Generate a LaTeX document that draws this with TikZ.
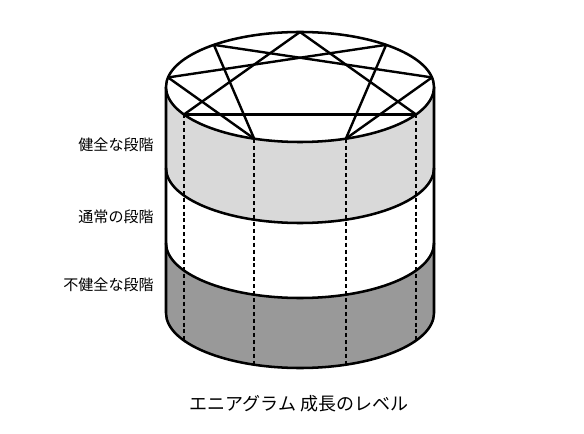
\documentclass[tikz,border=0pt]{standalone}
\usepackage{fontspec}
\newfontfamily\jpfont{Noto Sans CJK JP}
\usetikzlibrary{positioning}
\definecolor{healthy}{HTML}{D9D9D9}
\definecolor{unhealthy}{HTML}{999999}
\tikzset{
    outline/.style = {
        draw = black,
        line width = 1.9pt,
        },
    star edge/.style = {
        line width = 1.8pt,
        },
    hidden/.style = {
        line width = 1.5pt,
        dash pattern = on 3pt off 2.2pt,
        },
    level/.style = {
        font = \jpfont\fontsize{11.3}{13}\selectfont,
        anchor = east,
        inner sep = 0pt,
        },
    caption/.style = {
        font = \jpfont\fontsize{13.5}{16}\selectfont,
        inner sep = 0pt,
        },
}
\begin{document}
\begin{tikzpicture}[x=0.75pt, y=0.75pt, line join=round]
            \useasboundingbox (0,0) rectangle (584,-434);
            \coordinate (top) at (300,-87);
            \coordinate (mid1) at (300,-168);
            \coordinate (mid2) at (300,-243);
            \coordinate (bot) at (300,-313);

            % bands
            \fill[healthy] (166,-87) -- (166,-168)
                arc[start angle=180, end angle=360, x radius=134, y radius=55]
                -- (434,-87)
                arc[start angle=0, end angle=-180, x radius=134, y radius=55] -- cycle;
            \fill[unhealthy] (166,-243) -- (166,-313)
                arc[start angle=180, end angle=360, x radius=134, y radius=55]
                -- (434,-243)
                arc[start angle=0, end angle=-180, x radius=134, y radius=55] -- cycle;

            % cylinder
            \draw[outline] (166,-87) -- (166,-313)
                arc[start angle=180, end angle=360, x radius=134, y radius=55]
                -- (434,-87);
            \draw[outline] (166,-168) arc[start angle=180, end angle=360, x radius=134, y radius=55];
            \draw[outline] (166,-243) arc[start angle=180, end angle=360, x radius=134, y radius=55];
            \draw[outline, fill=white] (top) ellipse[x radius=134, y radius=55];

            % enneagram points
            \path (top) ++(90:134 and 55) coordinate (p9);
            \path (top) ++(50:134 and 55) coordinate (p1);
            \path (top) ++(10:134 and 55) coordinate (p2);
            \path (top) ++(-30:134 and 55) coordinate (p3);
            \path (top) ++(-70:134 and 55) coordinate (p4);
            \path (top) ++(250:134 and 55) coordinate (p5);
            \path (top) ++(210:134 and 55) coordinate (p6);
            \path (top) ++(170:134 and 55) coordinate (p7);
            \path (top) ++(130:134 and 55) coordinate (p8);

            \path (bot) ++(-30:134 and 55) coordinate (q3);
            \path (bot) ++(-70:134 and 55) coordinate (q4);
            \path (bot) ++(250:134 and 55) coordinate (q5);
            \path (bot) ++(210:134 and 55) coordinate (q6);

            \path[star edge] (p9) edge (p3);
            \path[star edge] (p3) edge (p6);
            \path[star edge] (p6) edge (p9);
            \path[star edge] (p1) edge (p4);
            \path[star edge] (p4) edge (p2);
            \path[star edge] (p2) edge (p8);
            \path[star edge] (p8) edge (p5);
            \path[star edge] (p5) edge (p7);
            \path[star edge] (p7) edge (p1);

            \path[hidden] (p3) edge (q3);
            \path[hidden] (p4) edge (q4);
            \path[hidden] (p5) edge (q5);
            \path[hidden] (p6) edge (q6);

            \node[level] (healthy) at (154,-145) {健全な段階};
            \node[level] (average) at (154,-217) {通常の段階};
            \node[level] (unhealthy) at (154,-285) {不健全な段階};
            \node[caption] (title) at (299,-404) {エニアグラム 成長のレベル};
        \end{tikzpicture}
\end{document}
